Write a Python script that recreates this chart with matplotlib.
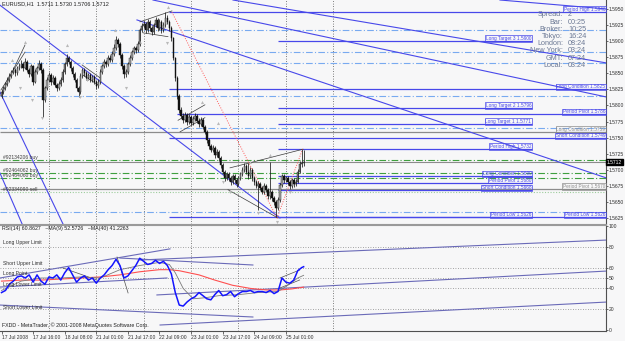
import numpy as np
import matplotlib
matplotlib.use("Agg")
import matplotlib.pyplot as plt
from matplotlib.transforms import blended_transform_factory

plt.rcParams['font.family'] = ['Liberation Sans', 'DejaVu Sans']

# ---------------- data ----------------
BASE = 1.5600
PIP = 0.0001

# EURUSD H1 candles, pips above 1.5600
first_open = 215
closes = [221, 227, 233, 240, 246, 252, 255, 250, 258, 261,
          264, 258, 268, 255, 249, 261, 237, 252, 258, 264,
          255, 209, 227, 240, 247, 237, 243, 232, 227, 233,
          240, 252, 264, 274, 268, 258, 249, 240, 227, 221,
          246, 255, 250, 243, 247, 240, 244, 237, 230, 237,
          252, 261, 268, 264, 274, 271, 280, 289, 302, 296,
          278, 261, 249, 252, 264, 274, 283, 289, 286, 296,
          317, 324, 327, 317, 330, 320, 314, 325, 333, 320,
          330, 317, 325, 336, 330, 320, 305, 274, 243, 215,
          193, 184, 177, 185, 174, 182, 173, 179, 184, 176,
          171, 177, 167, 159, 146, 137, 131, 134, 123, 128,
          118, 107, 97, 87, 93, 87, 81, 90, 84, 78,
          87, 93, 100, 106, 97, 90, 100, 87, 81, 75,
          78, 72, 66, 75, 69, 59, 66, 56, 50, 41,
          53, 76, 90, 84, 87, 81, 75, 84, 78, 81,
          97, 109, 111, 112]
highs = [226, 231, 236, 244, 250, 255, 260, 258, 262, 266,
         270, 267, 274, 270, 258, 265, 263, 256, 262, 270,
         267, 258, 231, 245, 252, 250, 248, 246, 235, 238,
         244, 256, 268, 280, 277, 271, 261, 252, 243, 230,
         250, 259, 258, 253, 251, 250, 248, 247, 240, 241,
         256, 265, 273, 271, 279, 278, 285, 296, 308, 305,
         298, 281, 264, 256, 268, 278, 287, 293, 292, 300,
         321, 328, 332, 330, 335, 333, 324, 329, 338, 336,
         334, 333, 330, 345, 340, 333, 323, 307, 276, 246,
         218, 197, 188, 190, 188, 186, 185, 184, 188, 187,
         180, 182, 180, 170, 162, 149, 140, 138, 137, 132,
         131, 121, 110, 100, 97, 96, 90, 94, 93, 87,
         91, 97, 104, 110, 109, 111, 104, 103, 90, 84,
         82, 81, 75, 79, 78, 72, 112, 69, 59, 53,
         57, 80, 94, 93, 91, 90, 84, 88, 87, 85,
         101, 114, 132, 130]
lows = [211, 218, 224, 230, 236, 243, 249, 246, 247, 255,
        258, 254, 256, 252, 244, 246, 232, 235, 249, 255,
        250, 182, 205, 224, 237, 232, 234, 228, 222, 224,
        230, 237, 249, 261, 264, 254, 245, 236, 222, 213,
        218, 243, 246, 239, 240, 236, 237, 233, 226, 227,
        234, 249, 258, 260, 261, 267, 268, 277, 286, 291,
        274, 256, 243, 245, 249, 261, 271, 280, 282, 283,
        293, 314, 320, 313, 314, 316, 310, 311, 322, 316,
        317, 313, 314, 322, 326, 316, 301, 270, 238, 210,
        188, 180, 172, 174, 170, 171, 169, 170, 176, 172,
        167, 168, 163, 155, 141, 133, 127, 128, 119, 120,
        114, 103, 93, 83, 84, 83, 77, 78, 80, 74,
        75, 84, 90, 97, 93, 86, 87, 83, 77, 71,
        37, 68, 62, 63, 65, 55, 55, 52, 45, 26,
        38, 50, 73, 80, 81, 77, 70, 72, 74, 75,
        79, 95, 105, 106]

# RSI(14) sampled every second bar, plus the last bar
rsi_bars = list(range(0, 153, 2)) + [153]
rsi_vals = [36, 38, 44, 47, 51, 52, 50, 53, 46, 53,
            47, 44, 51, 50, 53, 48, 55, 60, 53, 46,
            50, 52, 48, 50, 45, 50, 53, 58, 62, 68,
            62, 50, 52, 57, 62, 69, 66, 63, 64, 67,
            64, 66, 62, 54, 36, 24, 23, 27, 30, 32,
            36, 33, 30, 29, 34, 38, 33, 34, 37, 32,
            35, 37, 37, 38, 36, 37, 37, 36, 38, 35,
            37, 50, 46, 45, 48, 57, 60, 60.86]
ma9_bars = [0, 10, 20, 30, 40, 50, 60, 70, 80, 85, 88, 92, 97, 103, 110, 120, 130, 140, 145, 150, 153]
ma9_vals = [38, 47, 50, 50, 51, 50, 58, 62, 65, 63, 55, 40, 30, 31, 33, 34, 36, 37, 43, 50, 52.57]
ma40_bars = [0, 10, 20, 30, 40, 50, 60, 70, 80, 85, 90, 100, 108, 117, 126, 134, 141, 147, 153]
ma40_vals = [47, 48, 48, 49, 50, 51, 53, 56, 58, 58, 57, 53, 48, 43, 40, 38.5, 38.5, 39.5, 41.23]

# horizontal levels: price, first bar, last bar, name
lvl_price = [1.5946, 1.5900, 1.5825, 1.5796, 1.5786, 1.5771, 1.5759, 1.5749,
             1.5732, 1.5690, 1.5680, 1.5670, 1.5668, 1.5626, 1.5626]
lvl_start = [85, 140, 85, 140, 89, 140, -1, 85, 140, 140, 140, -1, 140, 85, 140]
lvl_end = [306.1, 268.6, 306.1, 268.6, 306.1, 268.6, 306.1, 306.1,
           268.6, 268.6, 268.6, 306.1, 268.6, 306.1, 268.6]
lvl_name = ['Period High', 'Long Target 3', 'Long Condition', 'Long Target 2',
            'Period Pivot', 'Long Target 1', 'Long Condition', 'Short Condition',
            'Period High', 'Long Condition', 'Period Pivot', 'Period Pivot',
            'Short Condition', 'Period Low', 'Period Low']
lvl_gray = [False, False, False, False, False, False, True, False,
            False, False, False, True, False, False, False]

fib_levels = [1.5917, 1.5883, 1.5866, 1.5815, 1.5765, 1.5634]
order_price = [1.5715, 1.5695, 1.5687, 1.5665]
order_label = ['#92134206 buy', '#92464062 buy', '#92464060 buy', '#92334090 sell']
last_price = 1.5712

# trend lines (bar0, price0, bar1, price1)
channel_lines = [(-0.8, 1.5956, 141.0, 1.5625), (76.7, 1.5964, 306.6, 1.5813),
                 (68.6, 1.5933, 306.6, 1.5687), (117.2, 1.5964, 306.6, 1.5866),
                 (252.4, 1.5964, 306.6, 1.5950), (-0.8, 1.5821, 31.1, 1.5616),
                 (-0.8, 1.5695, 10.4, 1.5616)]
pattern_lines = [(-0.3, 1.5815, 11.9, 1.5894), (-0.3, 1.5824, 11.9, 1.5883),
                 (40.8, 1.5863, 49.9, 1.5843), (41.3, 1.5847, 48.9, 1.5832),
                 (70.1, 1.5930, 86.3, 1.5947), (71.6, 1.5913, 84.3, 1.5907),
                 (89.4, 1.5777, 103.0, 1.5801), (90.4, 1.5759, 103.0, 1.5781),
                 (115.7, 1.5703, 152.7, 1.5732), (114.7, 1.5669, 140.0, 1.5625)]
zigzag_bars = [86.3, 139.5, 152.7]
zigzag_price = [1.5945, 1.5625, 1.5734]

up_bars = [5.3, 11.9, 33.2, 57.5, 70.1, 84.3, 101.5, 109.6, 125.8, 135.9]
up_price = [1.5871, 1.5899, 1.5894, 1.5917, 1.5899, 1.5953, 1.5805, 1.5773, 1.5712, 1.5723]
dn_bars = [9.4, 15.4, 20.5, 39.7, 43.3, 63.0, 83.8, 112.2, 115.7, 129.9, 139.5, 146.1]
dn_price = [1.5827, 1.5809, 1.5781, 1.5813, 1.5840, 1.5827, 1.5897, 1.5681, 1.5665, 1.5633, 1.5619, 1.5665]

rsi_lines = [(-0.8, 50, 85.3, 78), (70.1, 67.3, 306.6, 86.5), (78.7, 33.7, 306.6, 56.7),
             (80.3, 4.8, 306.6, 26.9), (-0.8, 24, 127.3, 12.5), (60, 69.2, 127.3, 62.5),
             (-0.8, 41.3, 83.8, 50)]
rsi_pattern = [(31.1, 59.6, 48.4, 48.1), (58.5, 70.2, 64.1, 35.6),
               (141, 50, 151, 57.7), (141, 40.4, 151, 48.1)]
rsi_levels = [20, 40, 50, 60, 80]
rsi_texts = ['Long Upper Limit', 'Short Upper Limit', 'Long Point', 'Long Lower Limit', 'Short Lower Limit']
rsi_text_y = [84.6, 64.4, 54.8, 43.3, 22.1]

grid_bars = [24, 48, 72, 96, 120, 144, 168]
label_bars = [0, 16, 32, 48, 64, 80, 96, 112, 128, 144]
time_labels = ['17 Jul 2008', '17 Jul 16:00', '18 Jul 08:00', '21 Jul 01:00', '21 Jul 17:00',
               '22 Jul 09:00', '23 Jul 01:00', '23 Jul 17:00', '24 Jul 09:00', '25 Jul 01:00']
info_keys = ['Spread:', 'Bar:', 'Broker:', 'Tokyo:', 'London:', 'New York:', 'GMT:', 'Local:']
info_vals = ['2', '00:25', '10:25', '16:24', '08:24', '03:24', '07:24', '03:24']

# ---------------- figure ----------------
W, H = 625, 341
BG = '#f7f7f8'
BLUE = '#4848ea'
fig = plt.figure(figsize=(W / 100, H / 100), dpi=100)
fig.patch.set_facecolor(BG)
ax = fig.add_axes([0, 117 / H, 606 / W, 224 / H])
ax2 = fig.add_axes([0, 10 / H, 606 / W, 106 / H])
for a in (ax, ax2):
    a.set_facecolor(BG)
    a.set_xlim(-0.76, 306.1)
    a.spines['left'].set_visible(False)
    a.spines['right'].set_color('#505050')
    a.yaxis.tick_right()
ax.set_ylim(1.56157, 1.59640)
ax2.set_ylim(-0.96, 100.96)
ax.spines['top'].set_visible(False)
ax.spines['bottom'].set_color('#9a9a9a')
ax2.spines['top'].set_color('#9a9a9a')
ax2.spines['bottom'].set_color('#505050')

# grid
for g in grid_bars:
    ax.axvline(g, color='#555555', lw=0.6, ls=(0, (1, 2)), zorder=1)
    ax2.axvline(g, color='#555555', lw=0.6, ls=(0, (1, 2)), zorder=1)
for lv in rsi_levels:
    ax2.axhline(lv, color='#888888', lw=0.6, ls=(0, (1, 2)), zorder=1)

# levels
for p in fib_levels:
    ax.axhline(p, color='#78aaf0', lw=0.8, ls=(0, (6, 2, 1, 2)), zorder=2)
for p, s, e, name, gray in zip(lvl_price, lvl_start, lvl_end, lvl_name, lvl_gray):
    col = '#8c8c8c' if gray else BLUE
    ax.hlines(p, s, e, color=col, lw=0.9, zorder=2)
    ax.text(e - 0.4, p, f'{name} {p:.4f}', ha='right', va='bottom', fontsize=3.4, color=col,
            bbox=dict(boxstyle='square,pad=0.15', fc='none', ec=col, lw=0.5), zorder=6)
for i, (p, lab) in enumerate(zip(order_price, order_label)):
    if i < 3:
        ax.axhline(p, color='#3f9f3f', lw=0.8, ls=(0, (6, 2, 1, 2)), zorder=2)
    else:
        ax.axhline(p, color='#9ccc9c', lw=0.8, ls=(0, (1, 1.5)), zorder=2)
    ax.text(0.6, p, lab, fontsize=3.6, color='#404040', va='bottom', ha='left', zorder=6)
ax.axhline(last_price, color='#8c8c8c', lw=0.8, zorder=2)

# trend lines
for b0, p0, b1, p1 in channel_lines:
    ax.plot([b0, b1], [p0, p1], color=BLUE, lw=0.8, zorder=3)
for b0, p0, b1, p1 in pattern_lines:
    ax.plot([b0, b1], [p0, p1], color='#3a3a3a', lw=0.5, zorder=3)
ax.plot(zigzag_bars, zigzag_price, color='#ff5a5a', lw=0.7, ls=(0, (1, 1.5)), zorder=3)

# candles
o = BASE + np.array([first_open] + closes[:-1]) * PIP
c = BASE + np.array(closes) * PIP
hi = BASE + np.array(highs) * PIP
lo = BASE + np.array(lows) * PIP
x = np.arange(len(closes))
ax.vlines(x, lo, hi, color='#1a1a1a', lw=0.55, zorder=4)
body = np.maximum(np.abs(c - o), 0.4 * PIP)
colors = ['#111111' if cc < oo else '#a8a8a8' for oo, cc in zip(o, c)]
ax.bar(x, body, bottom=np.minimum(o, c), width=0.75, color=colors, edgecolor='#111111',
       linewidth=0.3, zorder=5)

ax.scatter(up_bars, up_price, marker='^', s=5, color='#b9b9b9', zorder=4, linewidths=0)
ax.scatter(dn_bars, dn_price, marker='v', s=5, color='#b9b9b9', zorder=4, linewidths=0)

# price axis
price_ticks = [1.5625 + 0.0025 * k for k in range(14)]
ax.set_yticks(price_ticks)
ax.set_yticklabels([f'{t:.4f}' for t in price_ticks])
ax.tick_params(axis='y', labelsize=3.6, length=1.2, width=0.5, pad=0.8, colors='#303030')
ax.set_xticks([])
ax.text(1.0015, last_price, f'{last_price:.4f}', fontsize=3.6, color='white', va='center', ha='left',
        transform=blended_transform_factory(ax.transAxes, ax.transData),
        bbox=dict(boxstyle='square,pad=0.15', fc='black', ec='black'), zorder=7, clip_on=False)
ax.text(0.004, 0.995, 'EURUSD,H1  1.5711 1.5730 1.5706 1.5712', transform=ax.transAxes,
        fontsize=4, va='top', ha='left', color='#202020')

# info block
for k, (key, val) in enumerate(zip(info_keys, info_vals)):
    yy = 1 - (15 + 7.2 * k) / H
    fig.text(563 / W, yy, key, ha='right', va='center', fontsize=5.2, color='#6b7894')
    fig.text(568 / W, yy, val, ha='left', va='center', fontsize=5.2, color='#6b7894')

# RSI panel
for b0, v0, b1, v1 in rsi_lines:
    ax2.plot([b0, b1], [v0, v1], color='#6a6ab8', lw=0.8, zorder=3)
for b0, v0, b1, v1 in rsi_pattern:
    ax2.plot([b0, b1], [v0, v1], color='#505050', lw=0.5, zorder=3)
ax2.plot(ma40_bars, ma40_vals, color='#ff5050', lw=0.8, zorder=4)
ax2.plot(ma9_bars, ma9_vals, color='#7a7a7a', lw=0.6, zorder=4)
ax2.plot(rsi_bars, rsi_vals, color='#1414ff', lw=1.1, zorder=5)
for t, yv in zip(rsi_texts, rsi_text_y):
    ax2.text(0.6, yv, t, fontsize=3.6, color='#303030', va='center', ha='left', zorder=6)
ax2.text(0.004, 0.99, 'RSI(14) 60.8627   ~MA(9) 52.5726   ~MA(40) 41.2263', transform=ax2.transAxes,
         fontsize=3.8, va='top', ha='left', color='#202020')
ax2.text(0.004, 0.03, 'FXDD - MetaTrader, \u00a9 2001-2008 MetaQuotes Software Corp.',
         transform=ax2.transAxes, fontsize=3.8, va='bottom', ha='left', color='#202020')
ax2.set_yticks([0, 20, 40, 50, 60, 80, 100])
ax2.set_yticklabels(['0', '20', '40', '50', '60', '80', '100'])
ax2.tick_params(axis='y', labelsize=3.6, length=1.2, width=0.5, pad=0.8, colors='#303030')
ax2.set_xticks(label_bars)
ax2.set_xticklabels(time_labels, ha='left')
ax2.tick_params(axis='x', labelsize=3.6, length=2, width=0.5, pad=1.2, colors='#303030')

fig.savefig('out.png', dpi=100, facecolor=BG)
